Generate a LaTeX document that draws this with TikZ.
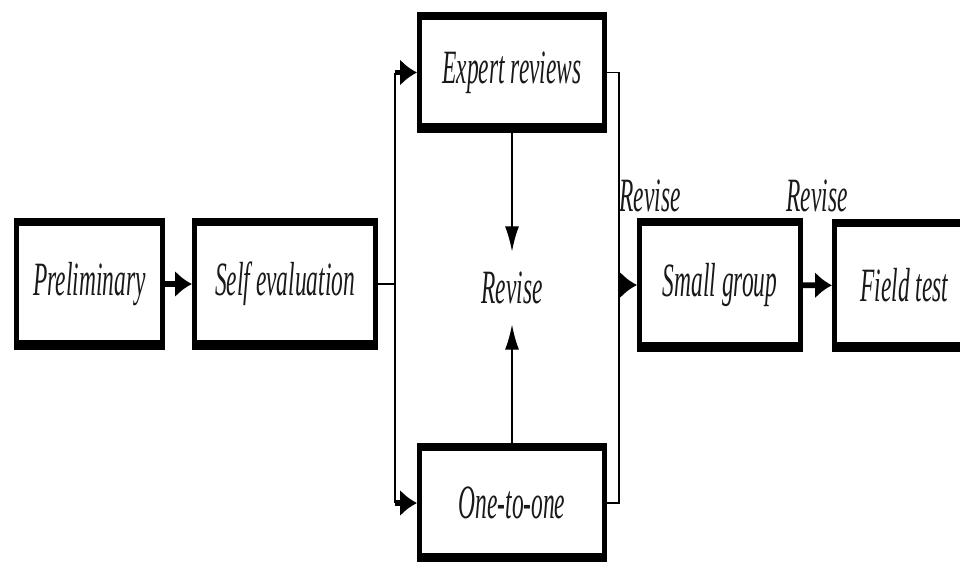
\documentclass[tikz,border=0pt]{standalone}
\usepackage{fontspec}
\newfontfamily\stagefont{Liberation Serif}[FakeStretch=0.49]
\usetikzlibrary{arrows.meta}
\tikzset{>={Latex[length=12pt,width=19pt]}}
\tikzset{
  stage/.style={draw, line width=3.5pt, inner sep=0pt,
    font=\stagefont\itshape\fontsize{34}{34}\selectfont, text=black!90,
    path picture={
      \fill (path picture bounding box.north west) rectangle
        ([yshift=-4pt]path picture bounding box.north east);
      \fill ([yshift=5.5pt]path picture bounding box.south west) rectangle
        (path picture bounding box.south east);}},
  revise/.style={inner sep=0pt, font=\stagefont\itshape\fontsize{34}{34}\selectfont,
    text=black!90},
  fat/.style={->, line width=4pt},
  thin/.style={line width=1pt},
  uparrow/.style={-{Latex[length=18pt,width=10pt]}, line width=1.4pt}
}

\begin{document}
\begin{tikzpicture}[x=0.025cm,y=-0.025cm]
        \useasboundingbox (0,0) rectangle (960,561);
        % stages
        \node[stage, minimum width=3.65cm, minimum height=3.175cm] (pre) at (89.5,284) {Preliminary};
        \node[stage, minimum width=4.525cm, minimum height=3.175cm] (self) at (285,284) {Self evaluation};
        \node[stage, minimum width=4.625cm, minimum height=2.9cm] (expert) at (512,72.5) {Expert reviews};
        \node[stage, minimum width=4.625cm, minimum height=2.9cm] (one) at (512,503) {One-to-one};
        \node[stage, minimum width=4.025cm, minimum height=3.225cm] (small) at (720,285) {Small group};
        \node[stage, minimum width=3.5cm, minimum height=3.2cm] (field) at (904.5,285.5) {Field test};
        % revise labels
        \node[revise, minimum height=1.8cm] (rmid) at (512,288) {Revise};
        \node[revise] (rsmall) at (650,196) {Revise};
        \node[revise] (rfield) at (817,196) {Revise};
        \coordinate (split) at (395,284);
        \coordinate (join) at (619,284);
        % connectors
        \draw[fat] (pre) -- (self);
        \draw[thin] (self.east) -- (split);
        \draw[thin] (split |- expert) -- (split |- one);
        \draw[fat] (split |- expert) -- (expert.west);
        \draw[fat] (split |- one) -- (one.west);
        \draw[thin] (expert.east) -- (join |- expert) -- (join |- one) -- (one.east);
        \draw[fat] (join |- small) -- (small.west);
        \draw[uparrow] (expert) -- (rmid);
        \draw[uparrow] (one) -- (rmid);
        \draw[fat] (small) -- (field);
      \end{tikzpicture}
\end{document}
